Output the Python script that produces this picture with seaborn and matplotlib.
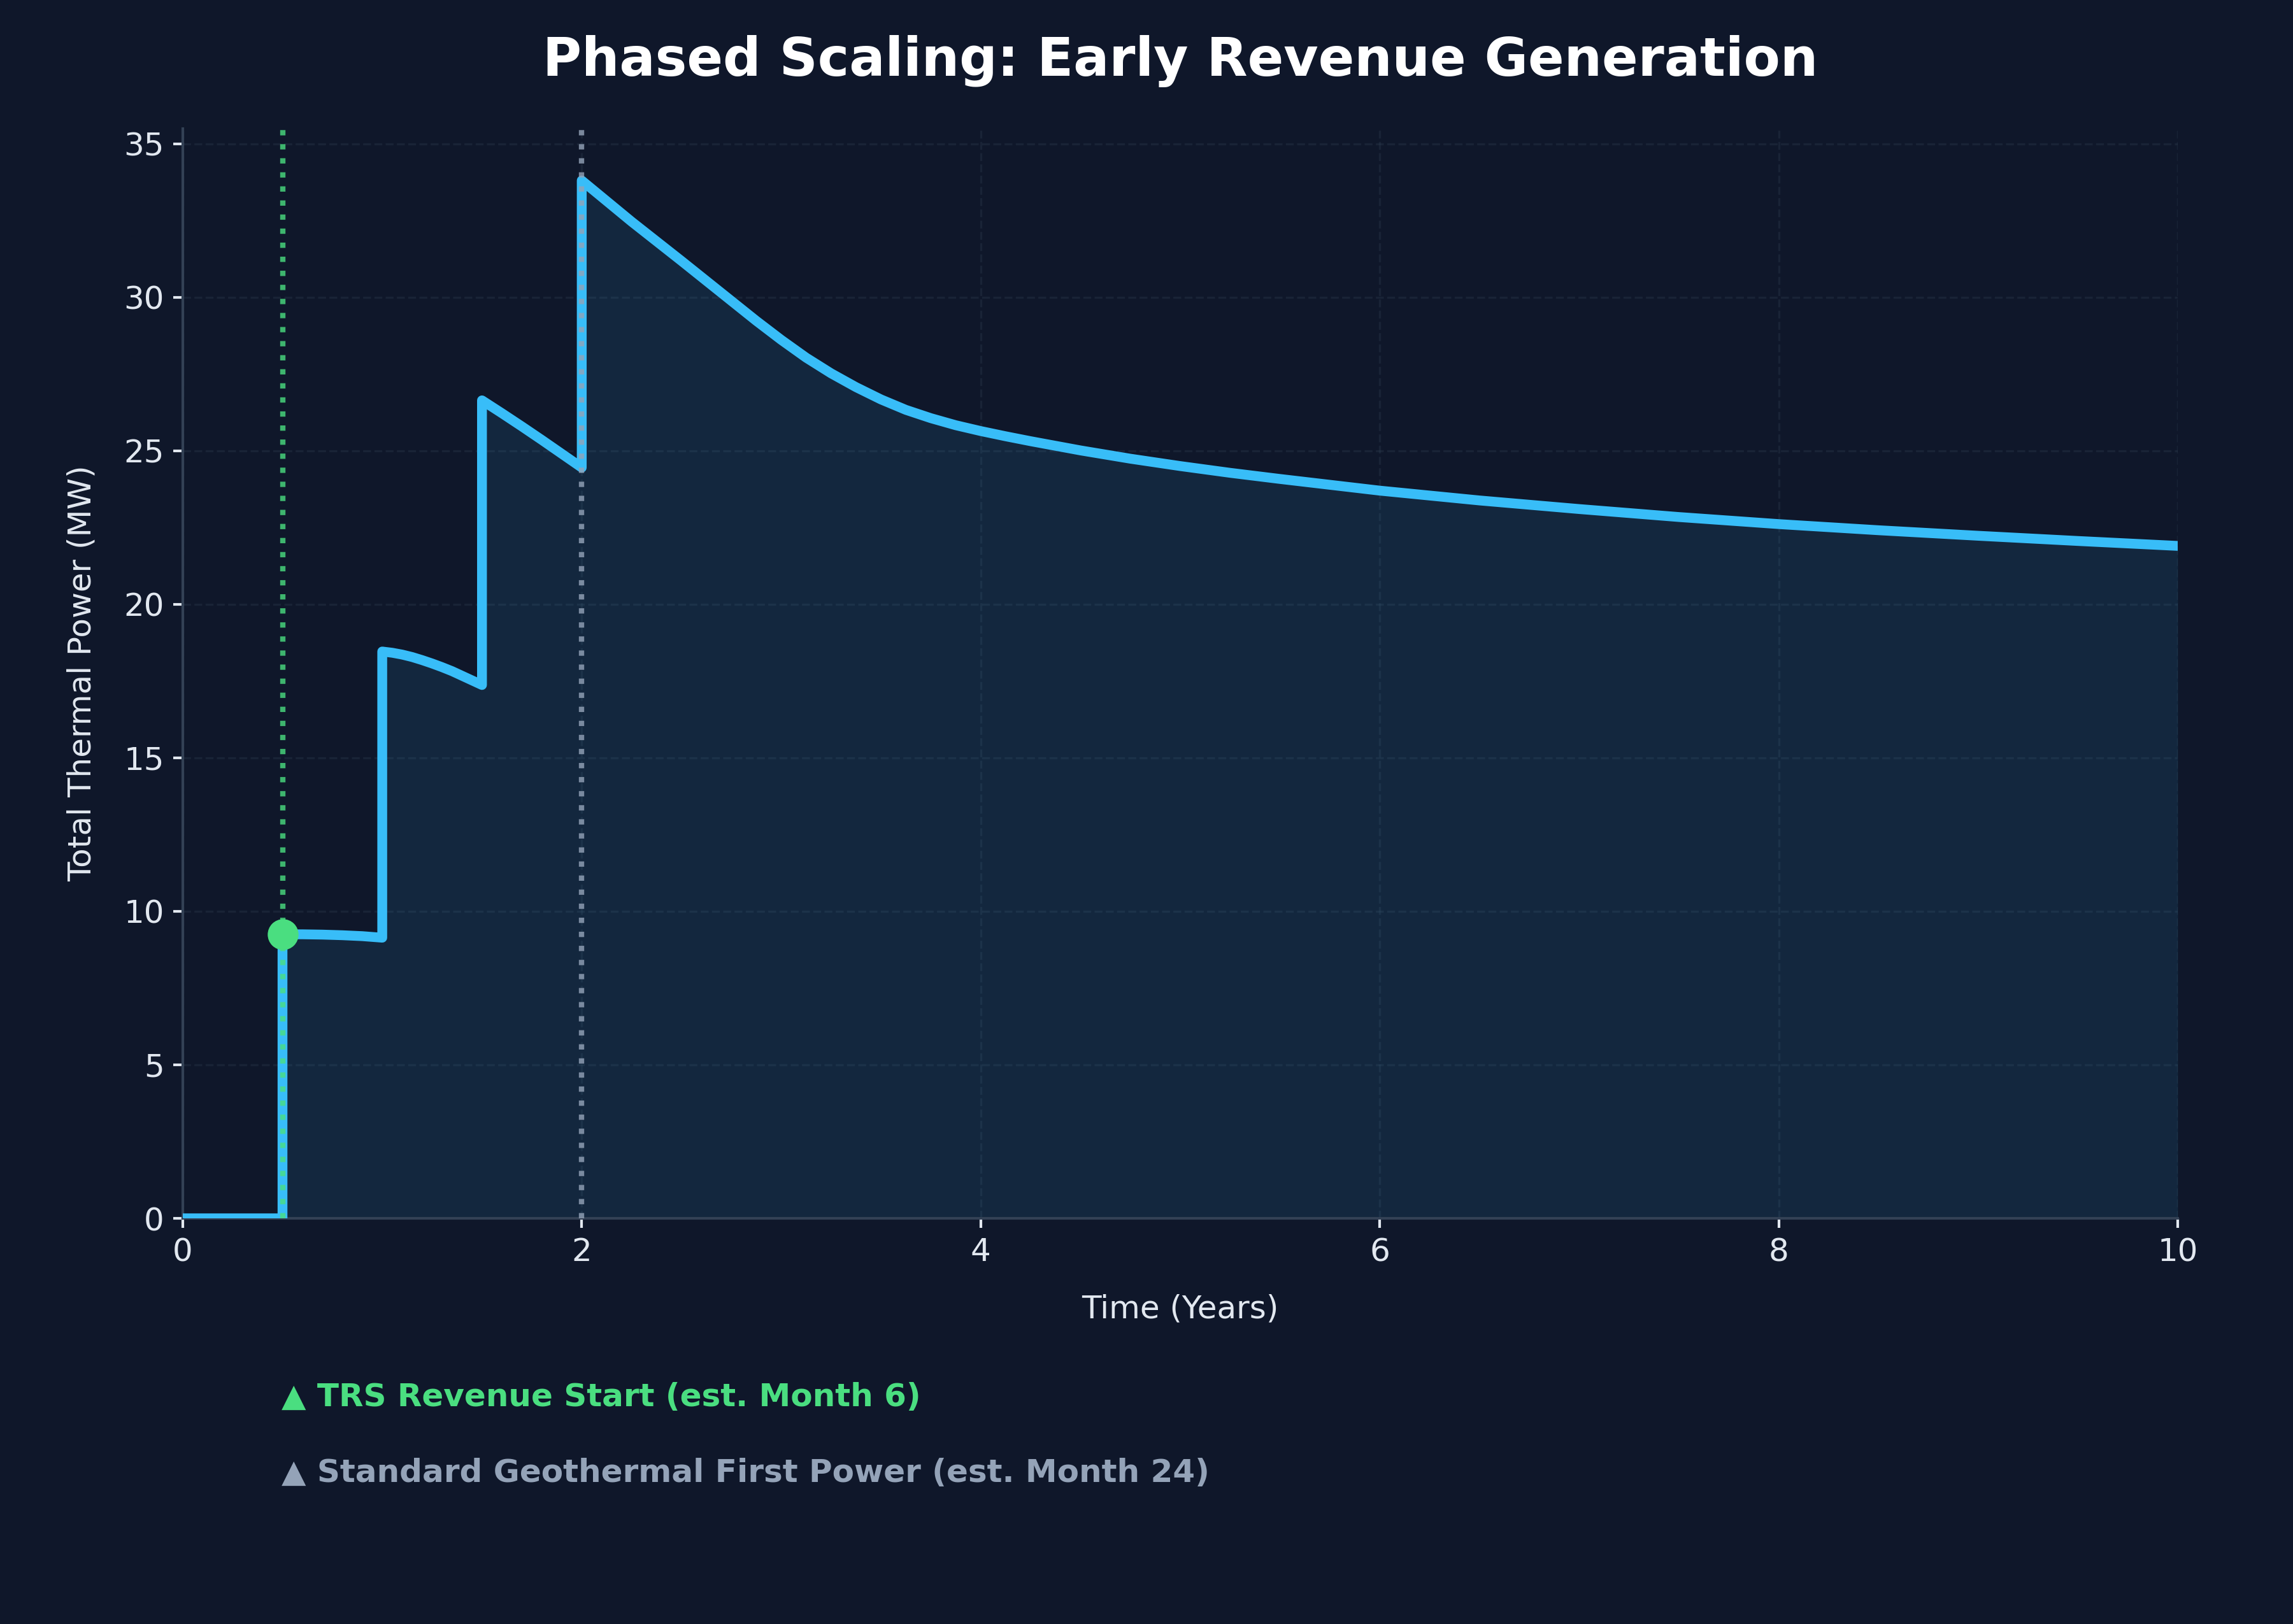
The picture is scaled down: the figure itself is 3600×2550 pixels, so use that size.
import numpy as np
import pandas as pd
import matplotlib
matplotlib.use("Agg")
import matplotlib.pyplot as plt
import seaborn as sns

# ---------------- data ----------------
time_years = [
    0.0, 0.5,
    0.5, 0.6, 0.7, 0.8, 0.9, 1.0,
    1.0, 1.05, 1.1, 1.15, 1.2, 1.25, 1.3, 1.35, 1.4, 1.45, 1.5,
    1.5, 1.6, 1.7, 1.8, 1.9, 2.0,
    2.0, 2.25, 2.5, 2.75, 2.875, 3.0, 3.125, 3.25, 3.375, 3.5, 3.625,
    3.75, 3.875, 4.0, 4.125, 4.25,
    4.5, 4.75, 5.0, 5.25, 5.5, 5.75, 6.0, 6.5, 7.0, 7.5,
    8.0, 8.5, 9.0, 9.5, 10.0,
]
power_mw = [
    0.0, 0.0,
    9.25, 9.25, 9.24, 9.22, 9.19, 9.14,
    18.46, 18.42, 18.36, 18.28, 18.18, 18.07, 17.95, 17.82, 17.67, 17.52, 17.37,
    26.64, 26.22, 25.79, 25.35, 24.90, 24.45,
    33.80, 32.46, 31.18, 29.88, 29.23, 28.61, 28.03, 27.52, 27.07, 26.67, 26.33,
    26.06, 25.83, 25.64, 25.47, 25.31,
    25.01, 24.74, 24.50, 24.28, 24.08, 23.89, 23.70, 23.38, 23.10, 22.84,
    22.61, 22.41, 22.23, 22.06, 21.90,
]
trs_revenue_start = 0.5        # years (month 6)
trs_revenue_power = 9.25       # MW at revenue start
standard_first_power = 2.0     # years (month 24)

x_ticks = [0, 2, 4, 6, 8, 10]
y_ticks = [0, 5, 10, 15, 20, 25, 30, 35]

title_text = "Phased Scaling: Early Revenue Generation"
x_label = "Time (Years)"
y_label = "Total Thermal Power (MW)"
note_trs = "\u25B2 TRS Revenue Start (est. Month 6)"
note_std = "\u25B2 Standard Geothermal First Power (est. Month 24)"

# ---------------- style ----------------
BG = "#0f172a"
LINE = "#38bdf8"
GREEN = "#4ade80"
GRAY = "#94a3b8"
TEXT = "#e2e8f0"
SPINE = "#334155"

sns.set_theme(style="dark", rc={
    "axes.facecolor": BG,
    "figure.facecolor": BG,
    "axes.edgecolor": SPINE,
    "text.color": TEXT,
    "axes.labelcolor": TEXT,
    "xtick.color": TEXT,
    "ytick.color": TEXT,
})
plt.rcParams["font.family"] = ["DejaVu Sans"]

df = pd.DataFrame({"Time": time_years, "Power": power_mw})

fig, ax = plt.subplots(figsize=(12, 8.5), dpi=300)
fig.subplots_adjust(left=0.0797, right=0.9497, bottom=0.2498, top=0.9208)
fig.patch.set_facecolor(BG)
ax.set_facecolor(BG)

ax.fill_between(df["Time"], 0, df["Power"], color=LINE, alpha=0.1, lw=0, zorder=1)
sns.lineplot(data=df, x="Time", y="Power", sort=False, estimator=None,
             color=LINE, lw=3.7, ax=ax, zorder=3)

ax.axvline(trs_revenue_start, color=GREEN, ls=":", lw=2, alpha=0.8, zorder=4)
ax.axvline(standard_first_power, color=GRAY, ls=":", lw=2, alpha=0.8, zorder=4)

sns.scatterplot(x=[trs_revenue_start], y=[trs_revenue_power], s=135,
                color=GREEN, linewidth=0, ax=ax, zorder=6, clip_on=False)

ax.set_xlim(0, 10)
ax.set_ylim(0, max(power_mw) * 1.05)
ax.set_xticks(x_ticks)
ax.set_yticks(y_ticks)
ax.tick_params(axis="both", labelsize=12, colors=TEXT, length=3.5, width=1,
               bottom=True, left=True)

ax.grid(True, color=SPINE, ls="--", lw=0.8, alpha=0.3)
ax.set_axisbelow(True)
for side in ["top", "right"]:
    ax.spines[side].set_visible(False)
for side in ["left", "bottom"]:
    ax.spines[side].set_color(SPINE)
    ax.spines[side].set_linewidth(1.0)

ax.set_xlabel(x_label, fontsize=12, color=TEXT, labelpad=10)
ax.set_ylabel(y_label, fontsize=12, color=TEXT, labelpad=10)
ax.set_title(title_text, fontsize=20, fontweight="bold", color="white", pad=20)

fig.text(0.1228, 0.1341, note_trs, color=GREEN, fontsize=12,
         fontweight="bold", va="baseline", ha="left")
fig.text(0.1228, 0.0875, note_std, color=GRAY, fontsize=12,
         fontweight="bold", va="baseline", ha="left")

fig.savefig("out.png", dpi=300, facecolor=BG)
